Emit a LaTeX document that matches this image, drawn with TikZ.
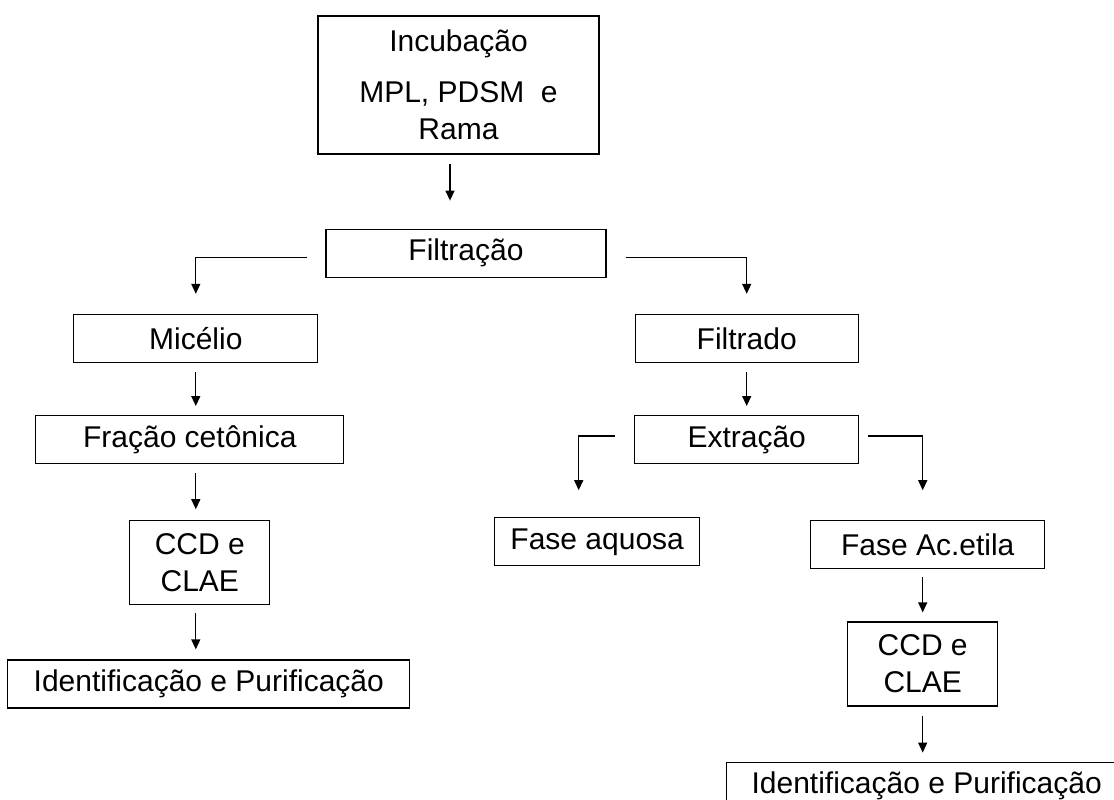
\documentclass[tikz,border=0pt]{standalone}
\usepackage{fontspec}
\setmainfont{Liberation Sans}
\usetikzlibrary{arrows.meta, positioning}

\begin{document}
\begin{tikzpicture}[
    x=1pt, y=-1pt,
    box/.style={rectangle, draw, line width=1.2pt, inner sep=0pt, minimum height=48pt, align=center, font=\fontsize{30}{37}\selectfont},
    arrow/.style={-{Triangle[length=10pt, width=9pt]}, line width=1.3pt},
]
\useasboundingbox (0,0) rectangle (1114,800);

\node[box, minimum width=281pt, minimum height=138pt] (incub) at (458.5,85) {Incubação\\[14pt]MPL, PDSM~~e\\Rama};
\node[box, minimum width=280pt, below=74pt of incub, xshift=7.5pt] (filt) {Filtração};
\node[box, minimum width=244pt, below left=36pt and 7pt of filt] (micelio) {Micélio};
\node[box, minimum width=223pt, below right=36pt and 28pt of filt] (filtrado) {Filtrado};
\node[box, minimum width=308pt, below=52pt of micelio, xshift=-6pt] (fracao) {Fração cetônica};
\node[box, minimum width=224pt, below=52pt of filtrado] (extr) {Extração};
\node[box, minimum width=140pt, minimum height=84pt, below=56pt of fracao, xshift=10pt] (ccdL) {CCD e\\CLAE};
\node[box, minimum width=402pt, below=54pt of ccdL, xshift=9pt] (identL) {Identificação e Purificação};
\node[box, minimum width=205pt, below=53pt of extr, xshift=-149.5pt] (aquosa) {Fase aquosa};
\node[box, minimum width=234pt, below=56pt of extr, xshift=181pt] (acetila) {Fase Ac.etila};
\node[box, minimum width=150pt, minimum height=84pt, below=52pt of acetila, xshift=-5pt] (ccdR) {CCD e\\CLAE};
\node[box, minimum width=400pt, below=55pt of ccdR, xshift=4pt] (identR) {Identificação e Purificação};

\draw[arrow] ([xshift=-8.5pt, yshift=-9pt]incub.south) -- ([xshift=-16pt, yshift=28pt]filt.north);
\draw[arrow] ([xshift=-18pt, yshift=-4pt]filt.west) -| ([yshift=20pt]micelio.north);
\draw[arrow] ([xshift=19pt, yshift=-4pt]filt.east) -| ([yshift=20pt]filtrado.north);
\draw[arrow] ([yshift=-9pt]micelio.south) -- ([xshift=6pt, yshift=9pt]fracao.north);
\draw[arrow] ([yshift=-9pt]filtrado.south) -- ([yshift=9pt]extr.north);
\draw[arrow] ([xshift=6pt, yshift=-9pt]fracao.south) -- ([xshift=-4pt, yshift=11pt]ccdL.north);
\draw[arrow] ([xshift=-4pt, yshift=-8pt]ccdL.south) -- ([xshift=-13pt, yshift=10pt]identL.north);
\draw[arrow] ([xshift=-19pt, yshift=3.5pt]extr.west) -| ([xshift=-18.5pt, yshift=27pt]aquosa.north);
\draw[arrow] ([xshift=9pt, yshift=3.5pt]extr.east) -| ([xshift=-5pt, yshift=30pt]acetila.north);
\draw[arrow] ([xshift=-5pt, yshift=-8pt]acetila.south) -- ([yshift=9pt]ccdR.north);
\draw[arrow] ([yshift=-9pt]ccdR.south) -- ([xshift=-4pt, yshift=9pt]identR.north);

\end{tikzpicture}
\end{document}
